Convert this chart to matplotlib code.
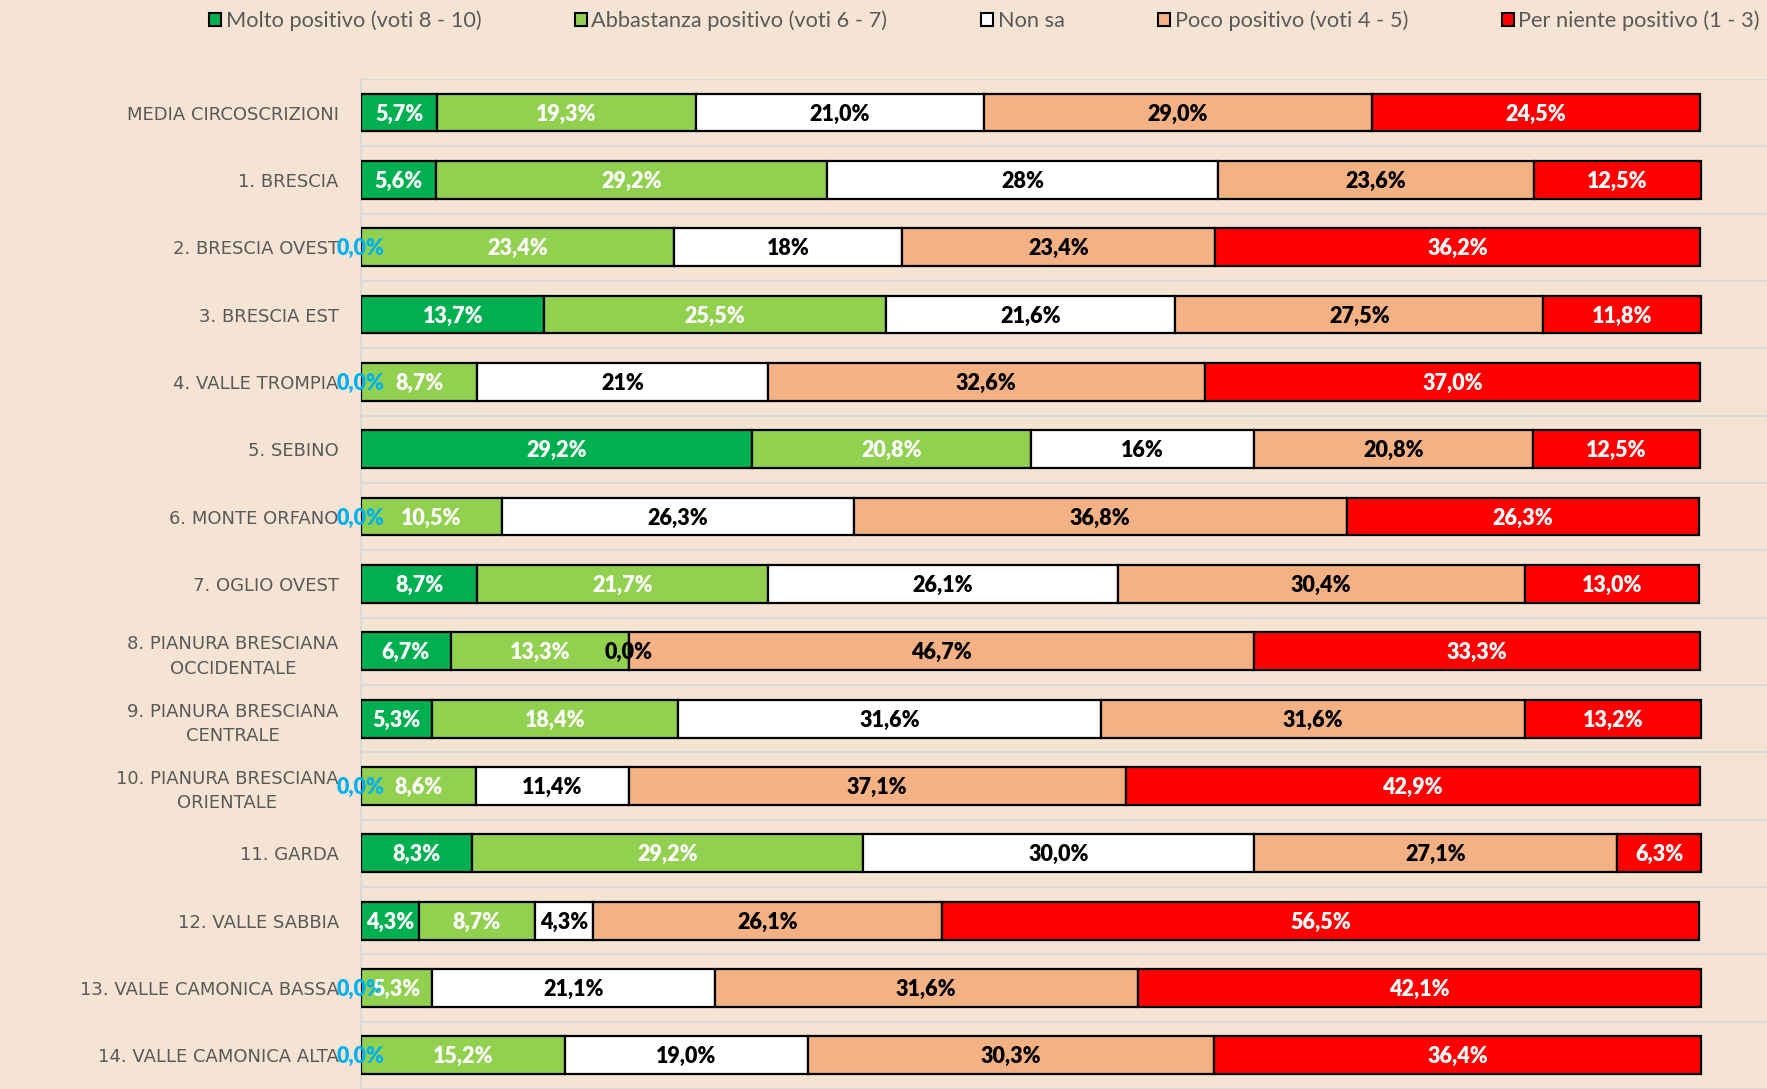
import numpy as np
import matplotlib
matplotlib.use("Agg")
import matplotlib.pyplot as plt
from matplotlib.patches import Patch

categories = ["MEDIA CIRCOSCRIZIONI", "1. BRESCIA", "2. BRESCIA OVEST", "3. BRESCIA EST",
              "4. VALLE TROMPIA", "5. SEBINO", "6. MONTE ORFANO", "7. OGLIO OVEST",
              "8. PIANURA BRESCIANA\nOCCIDENTALE", "9. PIANURA BRESCIANA\nCENTRALE",
              "10. PIANURA BRESCIANA\nORIENTALE", "11. GARDA", "12. VALLE SABBIA",
              "13. VALLE CAMONICA BASSA", "14. VALLE CAMONICA ALTA"]

series_names = ["Molto positivo (voti 8 - 10)", "Abbastanza positivo (voti 6 - 7)", "Non sa",
                "Poco positivo (voti 4 - 5)", "Per niente positivo (1 - 3)"]

molto = [5.7, 5.6, 0.0, 13.7, 0.0, 29.2, 0.0, 8.7, 6.7, 5.3, 0.0, 8.3, 4.3, 0.0, 0.0]
abbastanza = [19.3, 29.2, 23.4, 25.5, 8.7, 20.8, 10.5, 21.7, 13.3, 18.4, 8.6, 29.2, 8.7, 5.3, 15.2]
non_sa = [21.5, 29.2, 17.0, 21.6, 21.7, 16.7, 26.3, 26.1, 0.0, 31.6, 11.4, 29.2, 4.3, 21.1, 18.2]
poco = [29.0, 23.6, 23.4, 27.5, 32.6, 20.8, 36.8, 30.4, 46.7, 31.6, 37.1, 27.1, 26.1, 31.6, 30.3]
per_niente = [24.5, 12.5, 36.2, 11.8, 37.0, 12.5, 26.3, 13.0, 33.3, 13.2, 42.9, 6.3, 56.5, 42.1, 36.4]

# labels as printed on the chart (some "Non sa" labels differ from the bar length)
non_sa_labels = ["21,0%", "28%", "18%", "21,6%", "21%", "16%", "26,3%", "26,1%", "0,0%",
                 "31,6%", "11,4%", "30,0%", "4,3%", "21,1%", "19,0%"]

colors = ["#00B050", "#92D050", "#FFFFFF", "#F4B183", "#FF0000"]
text_colors = ["white", "white", "black", "black", "white"]
bg = "#F5E4D4"
lab_font = ["Lato", "DejaVu Sans"]


def fmt(v):
    return f"{v:.1f}%".replace(".", ",")


fig = plt.figure(figsize=(17.67, 10.89), dpi=100, facecolor=bg)
ax = fig.add_axes([0.2043, 0.0, 0.7957, 0.9275], facecolor=bg)

data = [molto, abbastanza, non_sa, poco, per_niente]
y = np.arange(len(categories))
left = np.zeros(len(categories))
for i, vals in enumerate(data):
    vals = np.array(vals)
    ax.barh(y, vals, left=left, height=0.56, color=colors[i], edgecolor="black",
            linewidth=1.6, zorder=3, label=series_names[i])
    for j, v in enumerate(vals):
        if i == 2:
            txt = non_sa_labels[j]
        else:
            txt = fmt(v)
        c = text_colors[i]
        if v == 0 and i == 0:
            c = "#00B0F0"
        ax.text(left[j] + v / 2, j + 0.02, txt, ha="center", va="center", color=c,
                fontsize=15.5, fontweight="heavy", family=lab_font, zorder=5)
    left = left + vals

ax.set_xlim(0, 105)
ax.set_ylim(14.31, -0.5)
ax.set_xticks([])
ax.set_yticks(y)
ax.set_yticklabels(categories, fontsize=13, color="#595959", linespacing=1.45,
                   multialignment="center")
ax.tick_params(axis="y", length=0, pad=16)
ax.set_yticks(np.arange(-0.5, 15, 1), minor=True)
ax.tick_params(axis="y", which="minor", length=0)
ax.grid(axis="y", which="minor", color="#D9D9D9", linewidth=1.5, zorder=0)
ax.grid(axis="y", which="major", visible=False)
for s in ["top", "right", "bottom"]:
    ax.spines[s].set_visible(False)
ax.spines["left"].set_color("#D9D9D9")
ax.spines["left"].set_linewidth(1.5)

handles = [Patch(facecolor=colors[i], edgecolor="black", linewidth=1.5) for i in range(5)]
fig.legend(handles, series_names, ncol=5, loc="center left", bbox_to_anchor=(0.1185, 0.981),
           frameon=False, prop={"family": lab_font, "size": 15.7}, borderpad=0,
           borderaxespad=0, labelcolor="#595959", handlelength=0.55, handleheight=0.55,
           handletextpad=0.2, columnspacing=4.3)

fig.savefig("out.png", dpi=100, facecolor=bg)
